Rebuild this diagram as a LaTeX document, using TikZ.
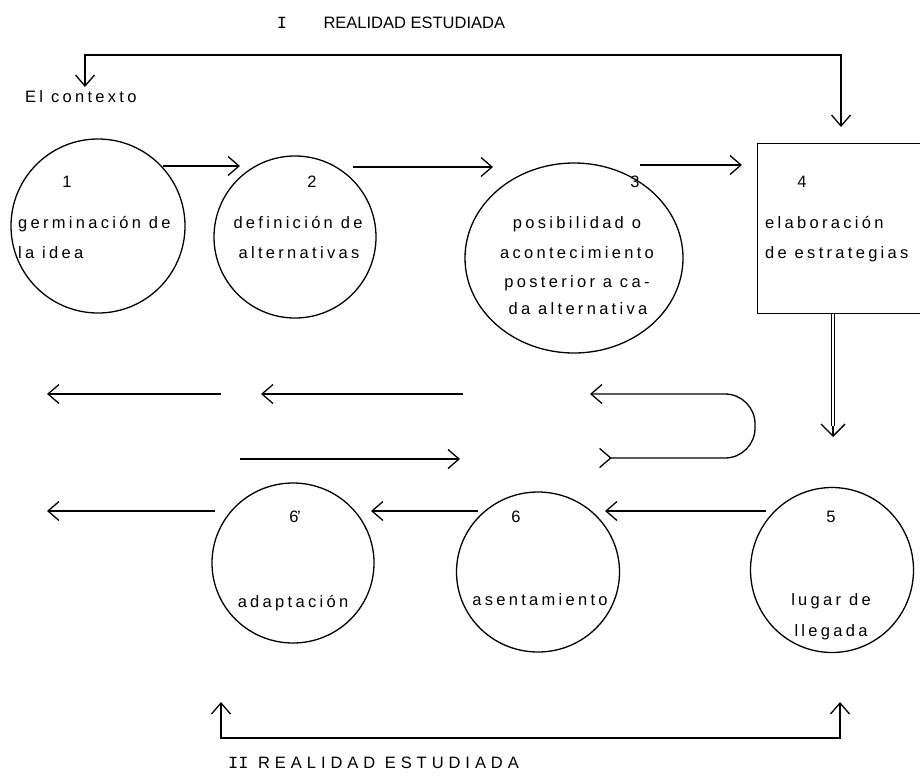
\documentclass[tikz,border=0pt]{standalone}
\usepackage{fontspec}
\setmainfont{Liberation Sans}
\newfontfamily\spaced[LetterSpace=20]{Liberation Sans}
\newfontfamily\widespaced[LetterSpace=30]{Liberation Sans}
\newfontfamily\romfont{Liberation Mono}
\usetikzlibrary{arrows.meta,shapes.geometric}

\tikzset{
  barb/.tip={Straight Barb[length=11pt,width=19pt]},
  flow/.style={line width=1.3pt, -barb},
  flowboth/.style={line width=1.3pt, barb-barb},
  etapa/.style={draw, line width=1.3pt, ellipse, inner sep=0pt},
  txt/.style={font=\spaced\fontsize{16.5}{19}\selectfont, inner sep=0pt},
}

\begin{document}
\begin{tikzpicture}[x=1pt, y=-1pt]
  \useasboundingbox (0,0) rectangle (920,779);

  % primera realidad estudiada
  \node[font=\romfont\fontsize{17}{20}\selectfont] (tnum) at (282,23) {I};
  \node[anchor=west, font=\fontsize{16.5}{20}\selectfont] (ttit) at (320,23) {REALIDAD ESTUDIADA};
  \node[txt, anchor=base west] (ctx) at (25,102) {El contexto};
  \coordinate (ctxtop) at (85,87);
  \coordinate (esttop) at (841,127);
  \draw[flowboth] (ctxtop) -- ++(0,-32) -| (esttop);

  % etapas de arriba
  \node[etapa, minimum width=174, minimum height=174] (idea) at (98,226) {};
  \node[etapa, minimum width=162, minimum height=162] (altern) at (295,237) {};
  \node[etapa, minimum width=218, minimum height=190] (posib) at (574,258) {};
  \node[draw, line width=1.3pt, minimum width=175, minimum height=170,
        anchor=north west, inner sep=0pt] (estrat) at (757,143) {};

  \node[txt] (idea-n) at (67,182) {1};
  \node[txt, anchor=base west] (idea-a) at (18,228) {germinación de};
  \node[txt, anchor=base west] (idea-b) at (18,258) {la idea};

  \node[txt] (altern-n) at (312,182) {2};
  \node[txt, anchor=base] (altern-a) at (298,228) {definición de};
  \node[txt, anchor=base] (altern-b) at (299,258) {alternativas};

  \node[txt] (posib-n) at (635,182) {3};
  \node[txt, anchor=base] (posib-a) at (577,228) {posibilidad o};
  \node[txt, anchor=base] (posib-b) at (577,258) {acontecimiento};
  \node[txt, anchor=base] (posib-c) at (577,287) {posterior a ca-};
  \node[txt, anchor=base] (posib-d) at (578,314) {da alternativa};

  \node[txt] (estrat-n) at (802,182) {4};
  \node[txt, anchor=base west] (estrat-a) at (765,228) {elaboración};
  \node[txt, anchor=base west] (estrat-b) at (765,258) {de estrategias};

  \coordinate (a1) at (163,166);  \coordinate (a2) at (240,166);
  \coordinate (b1) at (353,167);  \coordinate (b2) at (493,167);
  \coordinate (c1) at (640,165);  \coordinate (c2) at (742,165);
  \draw[flow] (a1) -- (a2);
  \draw[flow] (b1) -- (b2);
  \draw[flow] (c1) -- (c2);

  % flecha doble hacia el lugar de llegada
  \coordinate (dA) at (833,426);
  \coordinate (dB) at (833,437);
  \draw[double, double distance=2.5pt, line width=0.8pt] (estrat.south -| dA) -- (dA);
  \draw[line width=1.3pt, -{Straight Barb[length=12pt,width=24pt]}] (dA) -- (dB);

  % ida y vuelta
  \coordinate (r1a) at (221,394);  \coordinate (r1b) at (47,394);
  \coordinate (r2a) at (463,394);  \coordinate (r2b) at (261,394);
  \coordinate (ua) at (599,458);   \coordinate (ub) at (590,394);
  \coordinate (r3a) at (240,459);  \coordinate (r3b) at (460,459);
  \draw[flow] (r1a) -- (r1b);
  \draw[flow] (r2a) -- (r2b);
  \draw[flow] (r3a) -- (r3b);
  \draw[line width=1.3pt, {Straight Barb[length=11pt,width=19pt,reversed]}-barb, rounded corners=30]
    (ua) -- (755,458) -- (755,394) -- (ub);

  % etapas de abajo
  \node[etapa, minimum width=162, minimum height=160] (adapt) at (293,563) {};
  \node[etapa, minimum width=163, minimum height=160] (asent) at (538,572) {};
  \node[etapa, minimum width=163, minimum height=165] (llegada) at (832,570) {};

  \node[txt] (adapt-n) at (295,517) {6\hspace{-1.5pt}’};
  \node[txt, anchor=base] (adapt-a) at (293,607) {adaptación};
  \node[txt] (asent-n) at (516,517) {6};
  \node[txt, anchor=base] (asent-a) at (540,605) {asentamiento};
  \node[txt] (llegada-n) at (831,517) {5};
  \node[txt, anchor=base] (llegada-a) at (831,605) {lugar de};
  \node[txt, anchor=base] (llegada-b) at (831,636) {llegada};

  \coordinate (d1) at (766,511);  \coordinate (d2) at (605,511);
  \coordinate (e1) at (478,511);  \coordinate (e2) at (371,511);
  \coordinate (f1) at (215,511);  \coordinate (f2) at (47,511);
  \draw[flow] (d1) -- (d2);
  \draw[flow] (e1) -- (e2);
  \draw[flow] (f1) -- (f2);

  % segunda realidad estudiada
  \coordinate (adbot) at (221,702);
  \coordinate (llbot) at (840,702);
  \draw[flowboth] (adbot) -- ++(0,36) -| (llbot);
  \node[anchor=base west, inner sep=0pt, font=\widespaced\fontsize{16.5}{19}\selectfont] (btit) at (228,768)
    {{\romfont\fontsize{17}{20}\selectfont II} REALIDAD ESTUDIADA};
\end{tikzpicture}
\end{document}
